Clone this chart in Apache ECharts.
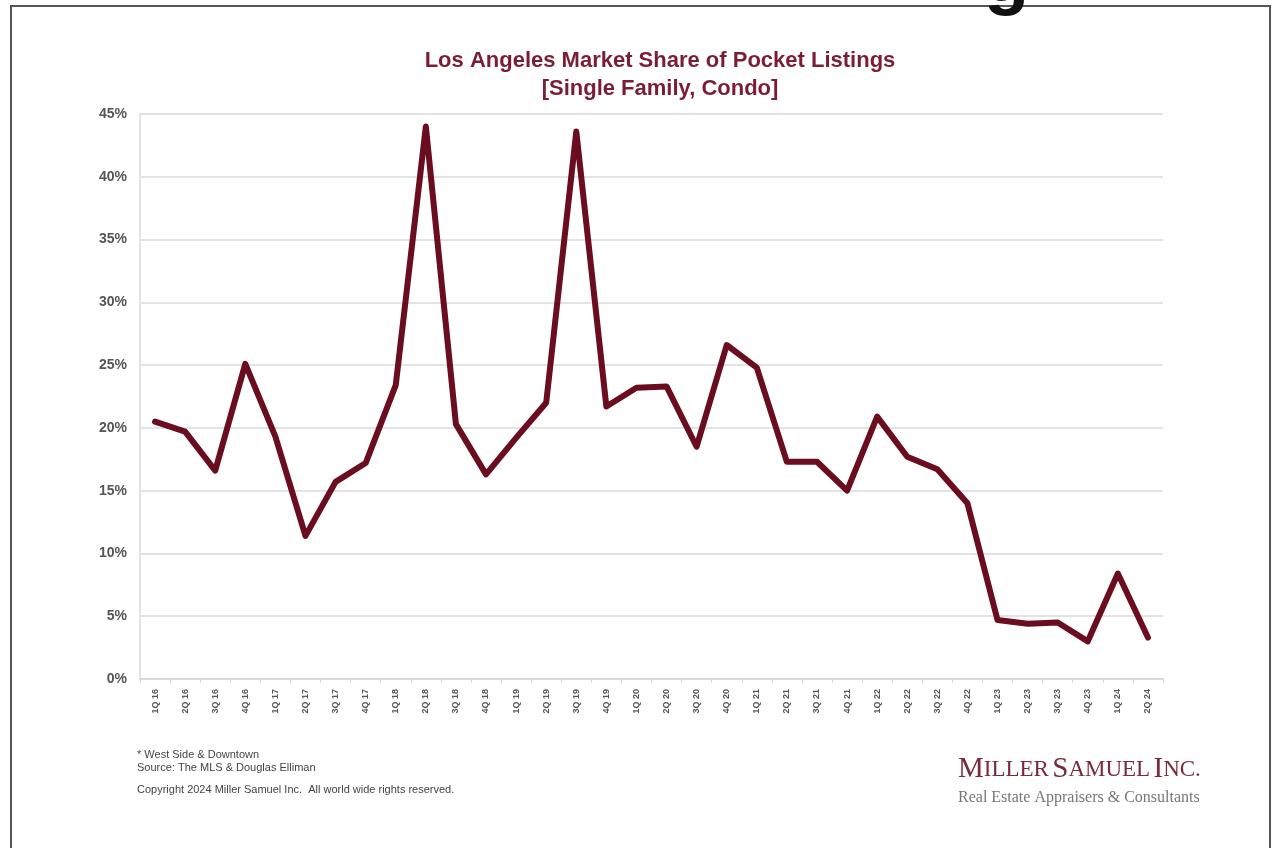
<!DOCTYPE html>
<html>
<head>
<meta charset="utf-8">
<title>Los Angeles Market Share of Pocket Listings</title>
<script src="https://cdn.jsdelivr.net/npm/echarts@6/dist/echarts.min.js"></script>
<style>
  html, body { margin: 0; padding: 0; background: #ffffff; }
  #chart { width: 1279px; height: 848px; }
</style>
</head>
<body>
<div id="chart"></div>
<script>
// quarters shown on the x axis
const quarters = [
  '1Q 16', '2Q 16', '3Q 16', '4Q 16',
  '1Q 17', '2Q 17', '3Q 17', '4Q 17',
  '1Q 18', '2Q 18', '3Q 18', '4Q 18',
  '1Q 19', '2Q 19', '3Q 19', '4Q 19',
  '1Q 20', '2Q 20', '3Q 20', '4Q 20',
  '1Q 21', '2Q 21', '3Q 21', '4Q 21',
  '1Q 22', '2Q 22', '3Q 22', '4Q 22',
  '1Q 23', '2Q 23', '3Q 23', '4Q 23',
  '1Q 24', '2Q 24'
];

// market share of pocket listings, percent
const pocketShare = [
  20.5, 19.7, 16.6, 25.1,
  19.3, 11.4, 15.7, 17.2,
  23.4, 44.0, 20.3, 16.3,
  19.2, 22.0, 43.6, 21.7,
  23.2, 23.3, 18.5, 26.6,
  24.8, 17.3, 17.3, 15.0,
  20.9, 17.7, 16.7, 14.0,
  4.7, 4.4, 4.5, 3.0,
  8.4, 3.3
];

const yMin = 0;
const yMax = 45;
const yStep = 5;

const footNotes = [
  '* West Side & Downtown',
  'Source: The MLS & Douglas Elliman'
];
const copyright = 'Copyright 2024 Miller Samuel Inc.  All world wide rights reserved.';

const wine = '#6a0e1f';
const labelGray = '#555555';

const myChart = echarts.init(document.getElementById('chart'), null, { renderer: 'canvas' });

const option = {
  backgroundColor: '#ffffff',
  animation: false,
  title: {
    text: 'Los Angeles Market Share of Pocket Listings\n[Single Family, Condo]',
    left: 655,
    top: 42,
    textAlign: 'center',
    textStyle: {
      color: '#7b1e34',
      fontFamily: 'Liberation Sans, Arial, sans-serif',
      fontWeight: 'bold',
      fontSize: 22,
      lineHeight: 28
    }
  },
  grid: {
    left: 140,
    right: 116,
    top: 114,
    bottom: 169,
    containLabel: false
  },
  xAxis: {
    type: 'category',
    data: quarters,
    boundaryGap: true,
    axisLine: { lineStyle: { color: '#d9d9d9', width: 2 } },
    axisTick: { show: true, alignWithLabel: false, length: 4, lineStyle: { color: '#d9d9d9' } },
    axisLabel: {
      rotate: 90,
      interval: 0,
      margin: 10,
      color: labelGray,
      fontFamily: 'Liberation Sans, Arial, sans-serif',
      fontWeight: 'bold',
      fontSize: 9
    }
  },
  yAxis: {
    type: 'value',
    min: yMin,
    max: yMax,
    interval: yStep,
    axisLine: { show: true, lineStyle: { color: '#e3e3e3', width: 2 } },
    axisTick: { show: false },
    splitLine: { lineStyle: { color: '#e3e3e3', width: 2 } },
    axisLabel: {
      formatter: '{value}%',
      margin: 13,
      color: labelGray,
      fontFamily: 'Liberation Sans, Arial, sans-serif',
      fontWeight: 'bold',
      fontSize: 14
    }
  },
  series: [
    {
      name: 'Pocket listings',
      type: 'line',
      data: pocketShare,
      symbol: 'none',
      smooth: false,
      lineStyle: { color: wine, width: 6, join: 'round', cap: 'round' },
      itemStyle: { color: wine }
    }
  ],
  graphic: [
    // photo frame
    {
      type: 'rect',
      shape: { x: 11, y: 6, width: 1259, height: 860 },
      style: { fill: 'none', stroke: '#555555', lineWidth: 2 },
      silent: true,
      z: 10
    },
    // clipped glyph of a caption above the frame
    {
      type: 'text',
      left: 984,
      top: -56,
      style: {
        text: 'g',
        fill: '#111111',
        font: 'bold 74px Liberation Sans, Arial, sans-serif'
      },
      z: 11
    },
    {
      type: 'text',
      left: 137,
      top: 748,
      style: {
        text: footNotes.join('\n'),
        fill: '#444444',
        font: '11px Liberation Sans Narrow, Liberation Sans, Arial, sans-serif',
        lineHeight: 13
      }
    },
    {
      type: 'text',
      left: 137,
      top: 784,
      style: {
        text: copyright,
        fill: '#444444',
        font: '11px Liberation Sans Narrow, Liberation Sans, Arial, sans-serif'
      }
    },
    {
      type: 'text',
      left: 958,
      top: 755,
      style: {
        text: '{big|M}{sm|ILLER} {big|S}{sm|AMUEL} {big|I}{sm|NC.}',
        rich: {
          big: {
            fill: '#7a2a3c',
            font: '29px Liberation Serif, Times New Roman, serif'
          },
          sm: {
            fill: '#7a2a3c',
            font: '23px Liberation Serif, Times New Roman, serif'
          }
        }
      }
    },
    {
      type: 'text',
      left: 958,
      top: 790,
      style: {
        text: 'Real Estate Appraisers & Consultants',
        fill: '#777777',
        font: '16px Liberation Serif, Times New Roman, serif'
      }
    }
  ]
};

myChart.setOption(option, true);
</script>
</body>
</html>
